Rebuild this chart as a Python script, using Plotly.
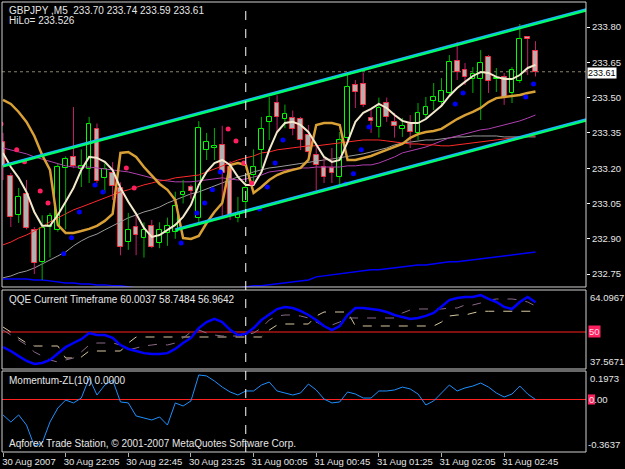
import plotly.graph_objects as go

# ---------------- data ----------------
time_ticks = [0, 8, 16, 24, 32, 40, 48, 56, 64]
time_labels = ["30 Aug 2007", "30 Aug 22:05", "30 Aug 22:45", "30 Aug 23:25",
               "31 Aug 00:05", "31 Aug 00:45", "31 Aug 01:25", "31 Aug 02:05", "31 Aug 02:45"]
price_ticks = [232.75, 232.90, 233.05, 233.20, 233.35, 233.50, 233.65, 233.80]

open_ = [233.31, 233.167, 233.001, 233.09, 232.937, 232.802, 232.95, 232.937, 233.20, 233.248,
         233.196, 233.197, 233.367, 233.16, 233.18, 233.116, 232.886, 232.95, 232.904, 232.955,
         232.882, 232.925, 232.93, 233.087, 233.12, 232.99, 233.277, 233.288, 233.299, 233.205,
         232.99, 233.057, 233.17, 233.277, 233.397, 233.477, 233.409, 233.413, 233.409, 233.341,
         233.256, 233.205, 233.20, 233.163, 233.328, 233.554, 233.558, 233.413, 233.375, 233.477,
         233.397, 233.367, 233.388, 233.35, 233.426, 233.486, 233.482, 233.52, 233.656, 233.618,
         233.58, 233.579, 233.673, 233.578, 233.588, 233.52, 233.571, 233.758, 233.70]
high = [233.35, 233.18, 233.116, 233.15, 232.95, 233.0, 233.01, 233.22, 233.25, 233.46,
        233.28, 233.418, 233.39, 233.22, 233.226, 233.14, 233.01, 233.0, 232.97, 232.98,
        232.97, 232.99, 233.10, 233.15, 233.13, 233.40, 233.35, 233.371, 233.38, 233.23,
        233.078, 233.14, 233.28, 233.418, 233.503, 233.51, 233.47, 233.445, 233.418, 233.384,
        233.29, 233.248, 233.286, 233.354, 233.596, 233.575, 233.605, 233.447, 233.50, 233.50,
        233.435, 233.413, 233.426, 233.477, 233.503, 233.562, 233.583, 233.681, 233.737, 233.647,
        233.63, 233.702, 233.681, 233.626, 233.605, 233.63, 233.813, 233.76, 233.74]
low = [233.15, 232.95, 232.967, 232.94, 232.75, 232.725, 232.82, 232.93, 232.94, 233.20,
       233.12, 233.137, 233.137, 233.095, 233.065, 232.83, 232.853, 232.83, 232.82, 232.86,
       232.86, 232.87, 232.90, 233.05, 233.07, 232.97, 233.235, 233.235, 232.993, 232.98,
       232.97, 233.02, 233.137, 233.2, 233.32, 233.35, 233.37, 233.34, 233.277, 233.248,
       233.107, 233.137, 233.137, 233.129, 233.32, 233.456, 233.46, 233.35, 233.33, 233.397,
       233.33, 233.333, 233.286, 233.32, 233.413, 233.447, 233.46, 233.503, 233.575, 233.554,
       233.52, 233.405, 233.52, 233.524, 233.469, 233.477, 233.562, 233.596, 233.59]
close = [233.21, 232.993, 233.078, 232.946, 232.797, 232.946, 232.997, 233.205, 233.24, 233.21,
         233.21, 233.388, 233.146, 233.197, 233.125, 232.866, 232.937, 232.916, 232.937, 232.866,
         232.937, 232.955, 233.04, 233.10, 233.103, 233.37, 233.311, 233.293, 233.18, 233.0,
         233.01, 233.116, 233.205, 233.367, 233.418, 233.418, 233.43, 233.367, 233.32, 233.269,
         233.214, 233.163, 233.18, 233.32, 233.545, 233.524, 233.469, 233.40, 233.456, 233.418,
         233.38, 233.38, 233.354, 233.435, 233.46, 233.503, 233.528, 233.652, 233.609, 233.588,
         233.60, 233.647, 233.571, 233.585, 233.503, 233.618, 233.749, 233.749, 233.61]

ma_fast = [233.265, 233.205, 233.159, 233.099, 233.014, 232.955, 232.955, 233.001, 233.057, 233.116,
           233.192, 233.248, 233.244, 233.227, 233.192, 233.116, 233.057, 233.006, 232.946, 232.908,
           232.916, 232.937, 232.959, 232.993, 233.044, 233.129, 233.184, 233.222, 233.235, 233.214,
           233.163, 233.129, 233.129, 233.184, 233.278, 233.354, 233.392, 233.397, 233.384, 233.354,
           233.299, 233.248, 233.227, 233.235, 233.311, 233.397, 233.435, 233.452, 233.473, 233.456,
           233.426, 233.401, 233.392, 233.392, 233.409, 233.439, 233.465, 233.507, 233.541, 233.567,
           233.592, 233.609, 233.605, 233.588, 233.579, 233.579, 233.596, 233.626, 233.639]
hilo = [233.49, 233.473, 233.439, 233.397, 233.337, 233.256, 233.193, 232.959, 232.925, 232.925,
        232.933, 232.942, 232.955, 232.976, 233.006, 233.265, 233.269, 233.248, 233.205, 233.167,
        233.133, 233.108, 233.065, 232.903, 232.899, 232.912, 232.967, 233.014, 233.052, 233.214,
        233.222, 233.214, 233.095, 233.12, 233.15, 233.171, 233.184, 233.193, 233.201, 233.235,
        233.384, 233.392, 233.392, 233.384, 233.235, 233.235, 233.244, 233.252, 233.265, 233.278,
        233.29, 233.303, 233.329, 233.345, 233.354, 233.358, 233.367, 233.388, 233.409, 233.426,
        233.439, 233.456, 233.481, 233.498, 233.503, 233.507, 233.511, 233.52, 233.526]
ma_red = [232.874, 232.886, 232.903, 232.916, 232.933, 232.950, 232.972, 232.989, 233.006, 233.023,
          233.035, 233.048, 233.061, 233.074, 233.086, 233.099, 233.108, 233.120, 233.129, 233.137,
          233.146, 233.150, 233.159, 233.163, 233.167, 233.171, 233.184, 233.197, 233.210, 233.222,
          233.235, 233.244, 233.252, 233.265, 233.269, 233.278, 233.282, 233.286, 233.290, 233.295,
          233.295, 233.299, 233.303, 233.307, 233.311, 233.316, 233.320, 233.320, 233.320, 233.316,
          233.311, 233.307, 233.303, 233.303, 233.299, 233.299, 233.295, 233.295, 233.299, 233.303,
          233.307, 233.311, 233.316, 233.320, 233.324, 233.329, 233.333, 233.337, 233.337]
ma_gray = [232.734, 232.742, 232.755, 232.763, 232.776, 232.793, 232.810, 232.827, 232.844, 232.870,
           232.891, 232.908, 232.920, 232.938, 232.955, 232.972, 232.989, 233.001, 233.014, 233.023,
           233.035, 233.052, 233.065, 233.078, 233.091, 233.099, 233.112, 233.125, 233.137, 233.150,
           233.163, 233.171, 233.184, 233.193, 233.201, 233.205, 233.210, 233.218, 233.222, 233.227,
           233.231, 233.235, 233.239, 233.244, 233.248, 233.256, 233.261, 233.269, 233.278, 233.286,
           233.299, 233.307, 233.311, 233.316, 233.320, 233.320, 233.324, 233.329, 233.333, 233.333,
           233.337, 233.337, 233.337, 233.337, 233.333, 233.333, 233.333, 233.333, 233.333]
ma_purple = [233.286, 233.278, 233.269, 233.261, 233.248, 233.239, 233.227, 233.218, 233.210, 233.205,
             233.205, 233.205, 233.201, 233.197, 233.193, 233.188, 233.184, 233.176, 233.167, 233.159,
             233.150, 233.146, 233.142, 233.142, 233.142, 233.146, 233.150, 233.154, 233.159, 233.154,
             233.150, 233.154, 233.163, 233.171, 233.184, 233.188, 233.193, 233.197, 233.201, 233.201,
             233.205, 233.205, 233.205, 233.205, 233.210, 233.210, 233.214, 233.214, 233.222, 233.235,
             233.248, 233.265, 233.273, 233.282, 233.290, 233.303, 233.316, 233.329, 233.337, 233.346,
             233.354, 233.363, 233.367, 233.375, 233.384, 233.392, 233.401, 233.413, 233.426]
ma_blue = [232.729, 232.729, 232.729, 232.729, 232.725, 232.725, 232.721, 232.717, 232.712, 232.712,
           232.708, 232.708, 232.704, 232.704, 232.700, 232.700, 232.695, 232.691, 232.691, 232.687,
           232.687, 232.683, 232.683, 232.683, 232.683, 232.683, 232.687, 232.687, 232.687, 232.691,
           232.691, 232.695, 232.700, 232.700, 232.704, 232.708, 232.712, 232.717, 232.721, 232.725,
           232.738, 232.742, 232.746, 232.750, 232.755, 232.759, 232.763, 232.768, 232.768, 232.772,
           232.776, 232.780, 232.785, 232.789, 232.789, 232.793, 232.797, 232.802, 232.802, 232.806,
           232.810, 232.814, 232.819, 232.823, 232.827, 232.831, 232.836, 232.840, 232.844]

sar_red_bar = [0, 2, 3, 5, 6, 16, 17, 29, 30, 31, 32]
sar_red_val = [233.388, 233.278, 233.227, 233.103, 233.052, 233.201, 233.116, 233.367, 233.316, 233.222, 233.137]
sar_blue_bar = [8, 9, 10, 12, 13, 23, 25, 26, 27, 28, 33, 34, 35, 36, 44, 45, 46, 47, 58, 59, 67, 68]
sar_blue_val = [232.836, 232.904, 233.014, 233.129, 233.099, 232.882, 233.010, 233.052, 233.108, 233.184,
                233.027, 233.120, 233.222, 233.320, 233.133, 233.176, 233.278, 233.375, 233.473, 233.520,
                233.503, 233.558]

chan_up_x = [0, 74.45]
chan_up_y = [233.21, 233.873]
chan_lo_x = [22, 74.45]
chan_lo_y = [232.938, 233.405]

qqe_rsi = [44.96, 43.6, 41.9, 40.3, 39.25, 39.6, 40.6, 42.9, 44.9, 46.3,
           47.6, 49.66, 49.0, 49.0, 48.0, 45.6, 44.3, 43.6, 42.9, 42.6,
           42.6, 42.9, 44.3, 46.3, 48.0, 51.3, 53.35, 54.4, 53.35, 50.7,
           49.0, 49.3, 51.3, 54.0, 56.0, 57.7, 58.4, 58.05, 57.05, 55.7,
           54.0, 52.0, 50.66, 52.0, 55.7, 58.05, 58.05, 57.7, 57.4, 56.7,
           55.7, 55.0, 54.4, 54.7, 55.4, 56.4, 58.4, 60.7, 61.4, 61.75,
           61.75, 62.4, 61.1, 60.07, 58.4, 57.7, 60.07, 61.75, 60.0037]
qqe_slow = [51.67, 49.99, 47.98, 46.30, 45.29, 45.29, 45.29, 45.29, 41.26, 41.26,
            41.60, 43.61, 43.61, 43.61, 43.61, 43.61, 46.30, 48.31, 48.31, 48.31,
            48.31, 48.31, 48.31, 48.31, 48.31, 48.31, 48.31, 48.31, 48.31, 48.31,
            48.31, 48.31, 48.31, 48.31, 50.66, 52.34, 52.68, 52.68, 52.68, 52.68,
            55.37, 56.71, 56.71, 56.71, 56.71, 52.01, 52.01, 52.01, 52.01, 52.01,
            52.01, 52.01, 52.01, 52.01, 52.01, 52.01, 53.35, 55.37, 55.70, 55.70,
            56.37, 56.96, 56.96, 56.96, 56.96, 56.96, 56.96, 56.96, 56.9642]
qqe_fast = [50.66, 48.99, 47.31, 45.63, 43.28, 41.93, 40.59, 39.92, 40.59, 41.26,
            43.28, 45.63, 46.30, 46.30, 46.30, 45.63, 43.95, 44.62, 45.29, 45.63,
            45.96, 45.63, 46.30, 47.98, 49.99, 50.66, 49.66, 48.99, 48.65, 48.65,
            48.65, 48.99, 49.66, 51.34, 54.02, 55.37, 55.70, 55.70, 55.37, 54.69,
            53.35, 52.01, 52.34, 53.35, 54.69, 54.69, 54.69, 54.69, 54.69, 54.69,
            54.69, 56.37, 57.38, 57.72, 57.72, 57.72, 57.72, 58.05, 58.05, 59.06,
            59.06, 59.73, 60.74, 61.07, 61.07, 61.07, 60.74, 60.07, 58.7484]
qqe_levels = [64.0967, 37.5671]

momentum = [-0.107, -0.156, -0.107, -0.177, -0.322, -0.301, -0.156, -0.059, -0.004, -0.024,
            0.010, 0.149, 0.031, 0.100, 0.135, -0.017, -0.024, -0.114, -0.128, -0.142,
            -0.121, -0.177, -0.024, -0.045, -0.010, 0.170, 0.163, 0.128, 0.086, 0.052,
            0.031, 0.059, 0.059, 0.100, 0.121, 0.059, 0.045, 0.031, 0.045, 0.107,
            0.066, 0.003, -0.024, -0.017, 0.052, 0.038, 0.010, 0.010, 0.059, 0.059,
            0.066, 0.086, 0.073, 0.038, -0.038, -0.010, 0.045, 0.100, 0.059, 0.080,
            0.093, 0.114, 0.086, 0.045, 0.017, 0.038, 0.093, 0.038, 0.0]
mom_levels = [0.1973, -0.3637]

separator_bar = 31

# ---------------- figure ----------------
n = len(open_)
bars = list(range(n))
FONT = "Liberation Sans"
TXT = "#e6e6e6"

fig = go.Figure()


def add_line(y, color, width, axis="y", dash=None):
    fig.add_trace(go.Scatter(x=bars, y=y, mode="lines", yaxis=axis,
                             line=dict(color=color, width=width, dash=dash),
                             hoverinfo="skip"))


add_line(ma_blue, "#0000ff", 1.5)
add_line(ma_gray, "#9a9a9a", 1)
add_line(ma_purple, "#b040b0", 1)
add_line(ma_red, "#ff2a2a", 1)

# candle wicks (drawn outside the bodies)
bull_wx, bull_wy, bear_wx, bear_wy = [], [], [], []
for i in bars:
    o, h, l, c = open_[i], high[i], low[i], close[i]
    top, bot = max(o, c), min(o, c)
    xs = [i, i, None, i, i, None]
    ys = [h, top, None, bot, l, None]
    if c >= o:
        bull_wx += xs
        bull_wy += ys
    else:
        bear_wx += xs
        bear_wy += ys
fig.add_trace(go.Scatter(x=bull_wx, y=bull_wy, mode="lines",
                         line=dict(color="#00b000", width=1), hoverinfo="skip"))
fig.add_trace(go.Scatter(x=bear_wx, y=bear_wy, mode="lines",
                         line=dict(color="#c0206a", width=1), hoverinfo="skip"))

bull = [i for i in bars if close[i] >= open_[i]]
bear = [i for i in bars if close[i] < open_[i]]
fig.add_trace(go.Bar(x=bull, y=[close[i] - open_[i] for i in bull], base=[open_[i] for i in bull],
                     width=0.6, marker=dict(color="#000000", line=dict(color="#00ff00", width=1)),
                     hoverinfo="skip"))
fig.add_trace(go.Bar(x=bear, y=[open_[i] - close[i] for i in bear], base=[close[i] for i in bear],
                     width=0.6, marker=dict(color="#b4b0b0", line=dict(color="#ff3040", width=1)),
                     hoverinfo="skip"))

add_line(hilo, "#d9a035", 2.5)
add_line(ma_fast, "#f2e8cc", 2)

fig.add_trace(go.Scatter(x=[b - 0.25 for b in sar_red_bar], y=sar_red_val, mode="markers",
                         marker=dict(color="#ff1f5f", size=5), hoverinfo="skip"))
fig.add_trace(go.Scatter(x=[b - 0.25 for b in sar_blue_bar], y=sar_blue_val, mode="markers",
                         marker=dict(color="#0000ff", size=5), hoverinfo="skip"))

# regression channel (cyan over green)
for cx, cy in ((chan_up_x, chan_up_y), (chan_lo_x, chan_lo_y)):
    fig.add_trace(go.Scatter(x=cx, y=[v + 0.003 for v in cy], mode="lines",
                             line=dict(color="#1ab4ff", width=2), hoverinfo="skip"))
    fig.add_trace(go.Scatter(x=cx, y=[v - 0.003 for v in cy], mode="lines",
                             line=dict(color="#00ff66", width=2), hoverinfo="skip"))

# QQE panel
add_line(qqe_slow, "#d8c8a0", 1, "y2", "dash")
add_line(qqe_fast, "#8a6a88", 1, "y2", "dash")
add_line(qqe_rsi, "#0000ff", 2.5, "y2")

# Momentum panel
add_line(momentum, "#1e90ff", 1, "y3")

DOM_MAIN = [0.36667, 1.0]
DOM_QQE = [0.18444, 0.36]
DOM_MOM = [0.0, 0.18]

shapes = []
for d in (DOM_MAIN, DOM_QQE, DOM_MOM):
    shapes.append(dict(type="rect", xref="paper", yref="paper", x0=0, x1=1, y0=d[0], y1=d[1],
                       line=dict(color="#d0d0d0", width=1), layer="above"))
shapes.append(dict(type="line", xref="paper", yref="y", x0=0, x1=1, y0=close[-1], y1=close[-1],
                   line=dict(color="#8a8266", width=1, dash="dot"), layer="below"))
shapes.append(dict(type="line", xref="paper", yref="y2", x0=0, x1=1, y0=50, y1=50,
                   line=dict(color="#ff2020", width=1.2), layer="below"))
shapes.append(dict(type="line", xref="paper", yref="y3", x0=0, x1=1, y0=0, y1=0,
                   line=dict(color="#ff2020", width=1.2), layer="below"))
shapes.append(dict(type="line", xref="x", yref="paper", x0=separator_bar, x1=separator_bar, y0=0, y1=1,
                   line=dict(color="#ffffff", width=1, dash="dash"), layer="above"))
shapes.append(dict(type="rect", xref="paper", yref="y3", x0=1.0034, x1=1.0154, y0=-0.035, y1=0.035,
                   fillcolor="#ff2060", line=dict(width=0), layer="below"))

annotations = []


def txt(x, y, s, **kw):
    d = dict(xref="paper", yref="paper", x=x, y=y, text=s, showarrow=False,
             xanchor="left", yanchor="middle", font=dict(family=FONT, size=9.5, color=TXT))
    d.update(kw)
    annotations.append(d)


txt(0.0086, 0.9822, "GBPJPY ,M5  233.70 233.74 233.59 233.61", font=dict(family=FONT, size=10, color=TXT))
txt(0.0086, 0.9600, "HiLo= 233.526", font=dict(family=FONT, size=10, color=TXT))
txt(0.0086, 0.3378, "QQE Current Timeframe 60.0037 58.7484 56.9642", font=dict(family=FONT, size=10, color=TXT))
txt(0.0086, 0.1578, "Momentum-ZL(10) 0.0000", font=dict(family=FONT, size=10, color=TXT))
txt(0.0086, 0.0200, "Aqforex Trade Station, \u00a9 2001-2007 MetaQuotes Software Corp.",
    font=dict(family=FONT, size=10, color=TXT))

# right side labels of sub panels
txt(1, qqe_levels[0], "64.0967", yref="y2", yanchor="top", xshift=2)
txt(1, qqe_levels[1], "37.5671", yref="y2", yanchor="bottom", xshift=2)
txt(1, mom_levels[0], "0.1973", yref="y3", yanchor="top", xshift=2)
txt(1, mom_levels[1], "-0.3637", yref="y3", yanchor="bottom", xshift=0)
txt(1, 50, "50", yref="y2", xshift=2, bgcolor="#ff2060", borderpad=0,
    font=dict(family=FONT, size=9.5, color="#ffd8e4"))
txt(1, 0, "0.00", yref="y3", xshift=2, borderpad=0)
txt(1, close[-1], "233.61", yref="y", xshift=1, yshift=-1, bgcolor="#ffffff", borderpad=0,
    font=dict(family=FONT, size=9, color="#000000"))

fig.update_layout(
    template="none",
    width=625, height=469,
    margin=dict(l=2, r=39, t=2, b=17),
    paper_bgcolor="#000000", plot_bgcolor="#000000",
    showlegend=False, barmode="overlay", bargap=0,
    font=dict(family=FONT, size=9.5, color=TXT),
    xaxis=dict(domain=[0, 1], range=[-0.128, 74.45], anchor="y3",
               tickvals=time_ticks, ticktext=time_labels, ticks="outside", ticklen=4,
               tickcolor="#b0b0b0", tickfont=dict(family=FONT, size=9.5, color=TXT),
               ticklabelshift=26, ticklabelstandoff=-3,
               showgrid=False, zeroline=False, showline=False, automargin=False, fixedrange=True),
    yaxis=dict(domain=DOM_MAIN, range=[232.695, 233.9065], side="right", anchor="x",
               tickvals=price_ticks, tickformat=".2f", ticks="outside", ticklen=3,
               tickcolor="#ffffff", tickfont=dict(family=FONT, size=9.5, color=TXT),
               showgrid=False, zeroline=False, showline=False, automargin=False),
    yaxis2=dict(domain=DOM_QQE, range=[qqe_levels[1], qqe_levels[0]], anchor="x",
                showticklabels=False, showgrid=False, zeroline=False, showline=False, automargin=False),
    yaxis3=dict(domain=DOM_MOM, range=[mom_levels[1], mom_levels[0]], anchor="x",
                showticklabels=False, showgrid=False, zeroline=False, showline=False, automargin=False),
    shapes=shapes,
    annotations=annotations,
)

fig.write_html("out.html")
